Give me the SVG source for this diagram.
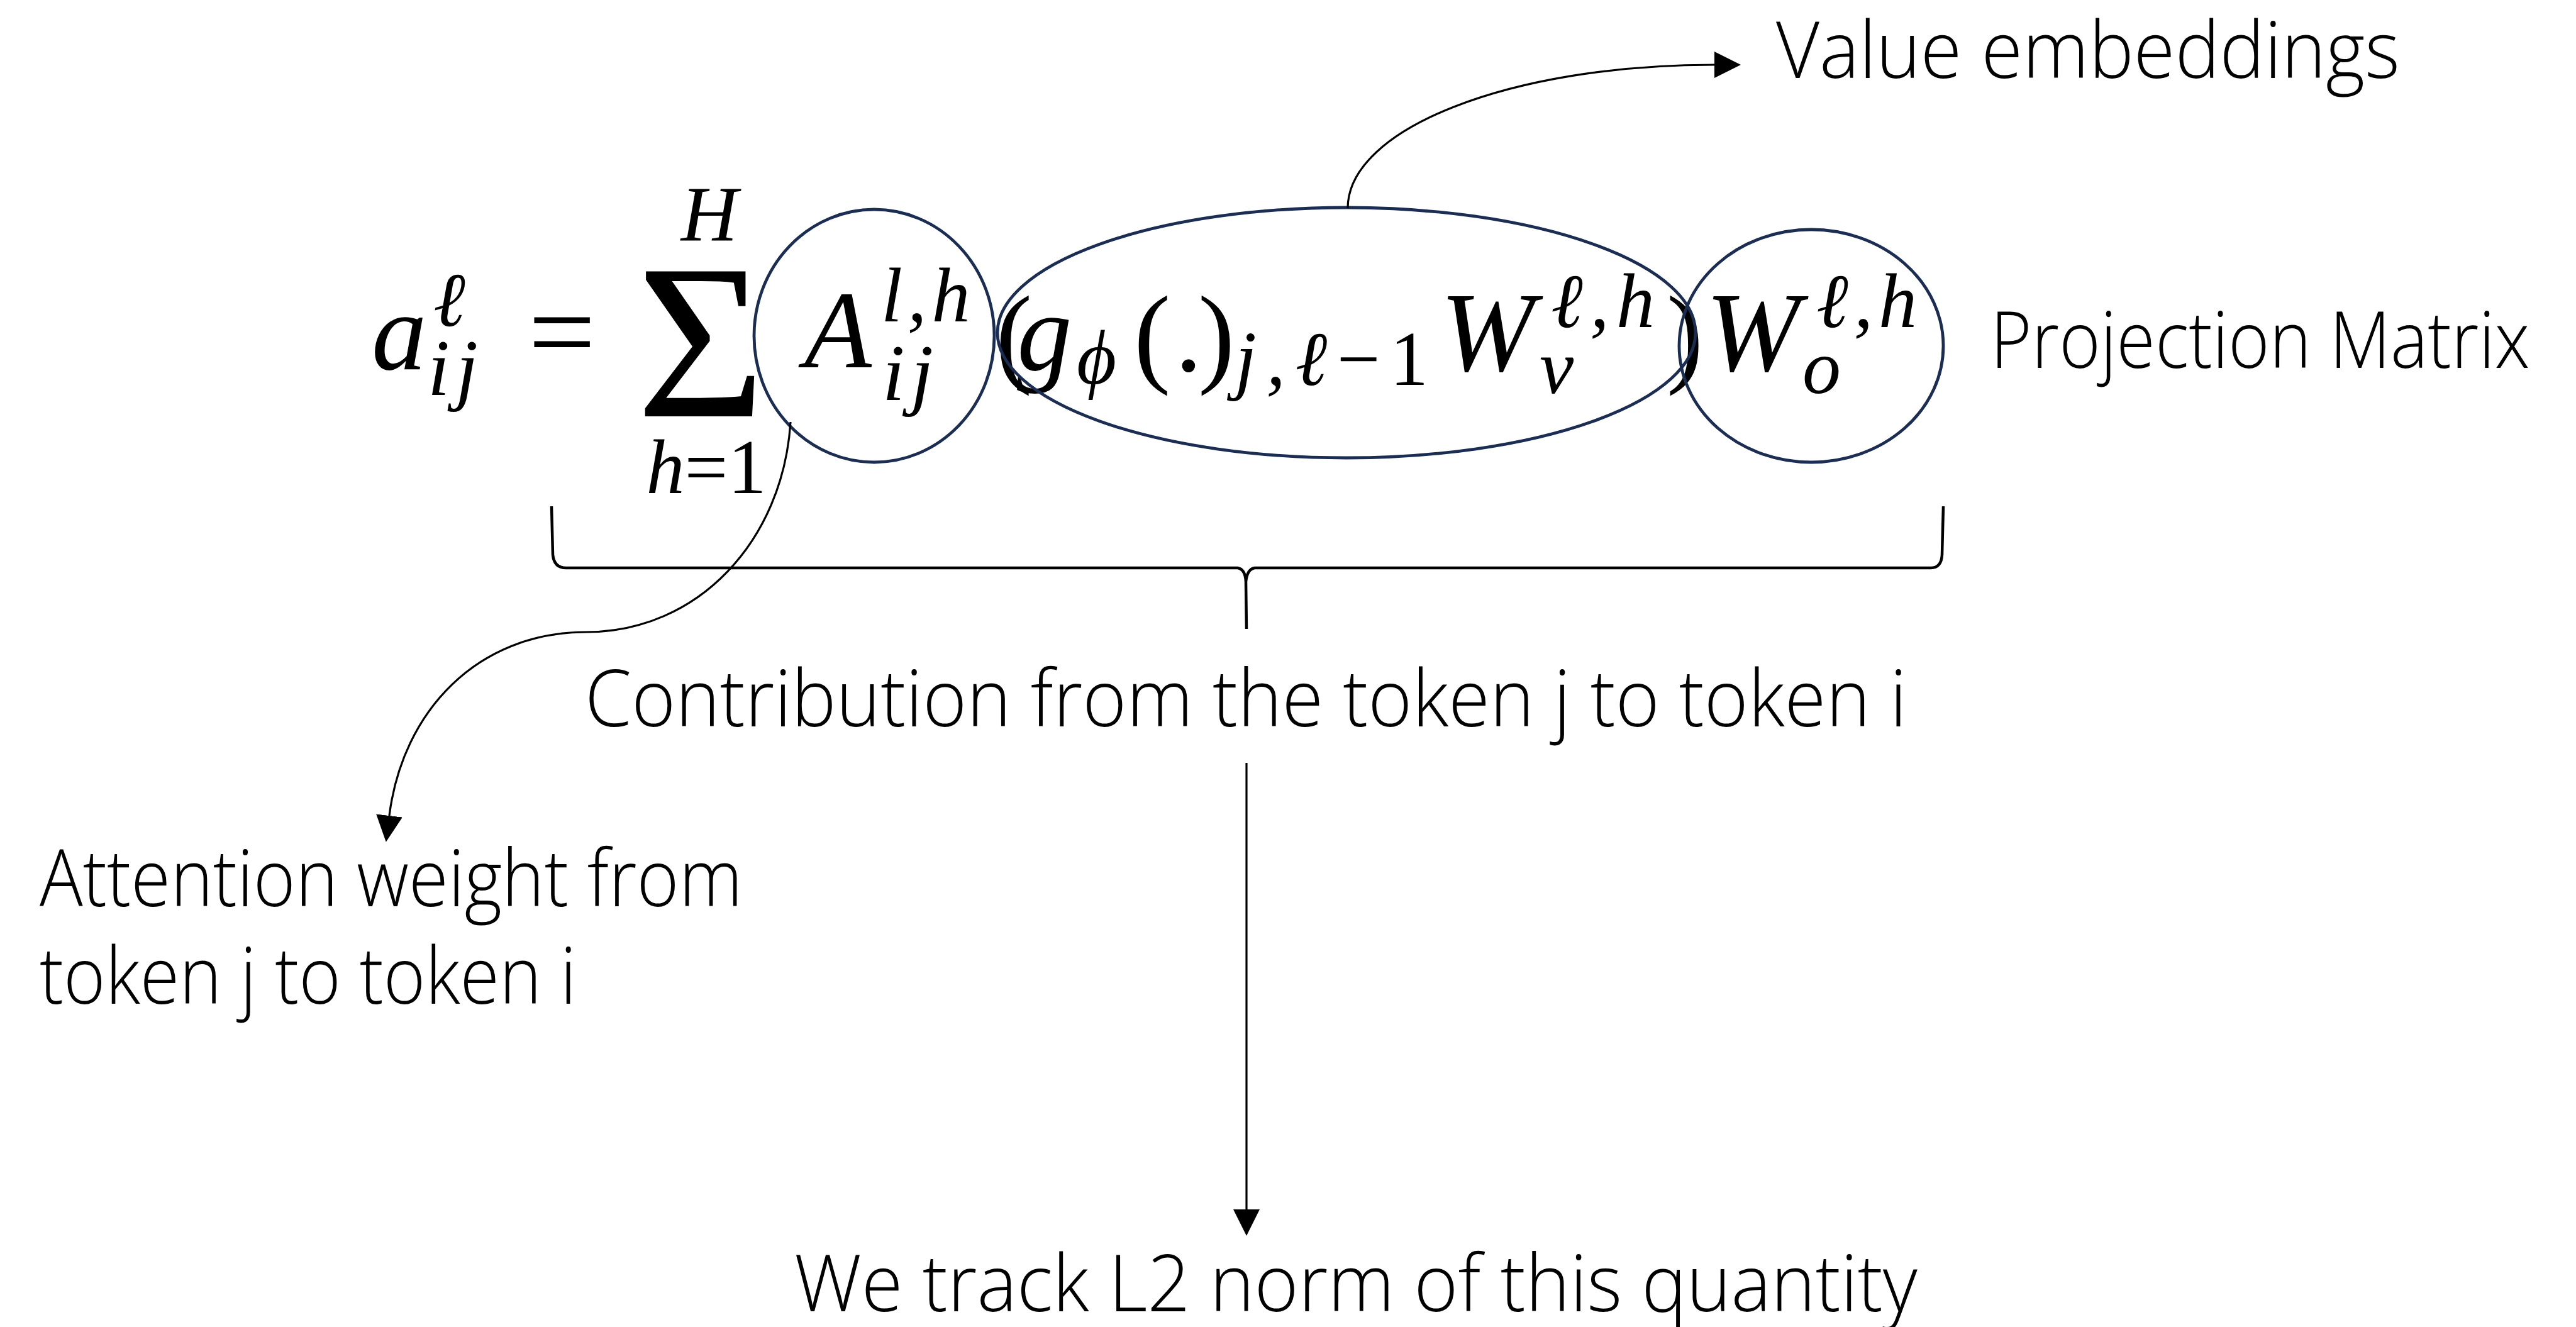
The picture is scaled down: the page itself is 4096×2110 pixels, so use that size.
<svg xmlns="http://www.w3.org/2000/svg" width="4096" height="2110" viewBox="0 0 4096 2110">
<defs>
<style>
.m{font-family:"Liberation Serif","DejaVu Serif",serif;font-style:italic;fill:#000}
.r{font-style:normal}
.lbl{font-family:"Open Sans","Noto Sans","Liberation Sans",sans-serif;font-weight:300;font-size:125px;fill:#000}
.ring{fill:none;stroke:#1b2d52;stroke-width:4.8}
.conn{fill:none;stroke:#000;stroke-width:3.2}
.brace{fill:none;stroke:#000;stroke-width:4.5}
</style>
<marker id="ah" markerUnits="userSpaceOnUse" markerWidth="42" markerHeight="42" refX="0" refY="21" orient="auto" viewBox="0 0 42 42"><path d="M0,0 L42,21 L0,42 Z" fill="#000"/></marker>
</defs>
<rect width="4096" height="2110" fill="#fff"/>
<g id="formula" class="m">
<text x="591" y="587" font-size="175">a</text>
<text x="689" y="518" font-size="122">ℓ</text>
<text x="680" y="628" font-size="126" letter-spacing="10">ij</text>
<text x="840" y="592" font-size="190" class="r">=</text>
<text x="1012" y="662" font-size="352" class="r">Σ</text>
<text x="1128" y="382" font-size="125" text-anchor="middle">H</text>
<text x="1123" y="784" font-size="122" text-anchor="middle">h<tspan class="r">=1</tspan></text>
<text x="1279" y="584" font-size="175">A</text>
<text x="1401" y="511" font-size="122" letter-spacing="8">l,h</text>
<text x="1403" y="636" font-size="128" letter-spacing="10">ij</text>
<text x="1583" y="592" font-size="175" class="r">(</text>
<text x="1617" y="589" font-size="175">g</text>
<text x="1712" y="610" font-size="122">ϕ</text>
<text x="1803" y="592" font-size="175" class="r">(</text>
<text x="1868" y="590" font-size="175" class="r">.</text>
<text x="1905" y="592" font-size="175" class="r">)</text>
<text x="1964" y="612" font-size="122" textLength="307">j,ℓ<tspan class="r">−1</tspan></text>
<text x="2290" y="589" font-size="180">W</text>
<text x="2466" y="520" font-size="122" textLength="165">ℓ,h</text>
<text x="2448" y="625" font-size="122">v</text>
<text x="2650" y="592" font-size="175" class="r">)</text>
<text x="2712" y="589" font-size="180">W</text>
<text x="2888" y="520" font-size="122" textLength="160">ℓ,h</text>
<text x="2866" y="625" font-size="122">o</text>
</g>
<g id="ring-attention"><ellipse class="ring" cx="1390" cy="534" rx="191" ry="201"/></g>
<g id="ring-value"><ellipse class="ring" cx="2141" cy="529" rx="555" ry="199"/></g>
<g id="ring-projection"><ellipse class="ring" cx="2880" cy="550" rx="210" ry="185"/></g>
<g id="brace"><path class="brace" d="M877,805 L879,882 Q881,903 900,903 L1968,903 Q1980,905 1981,925 L1982,1000 M1981,925 Q1983,905 1995,903 L3070,903 Q3087,903 3088,882 L3090,805"/></g>
<g id="label-value"><text class="lbl" transform="translate(2824,124) scale(0.85,1)" textLength="1167" lengthAdjust="spacingAndGlyphs">Value embeddings</text></g>
<g id="label-projection"><text class="lbl" transform="translate(3165,585) scale(0.85,1)" textLength="1009" lengthAdjust="spacingAndGlyphs">Projection Matrix</text></g>
<g id="label-contribution"><text class="lbl" transform="translate(930,1155) scale(0.85,1)" textLength="2473" lengthAdjust="spacingAndGlyphs">Contribution from the token j to token i</text></g>
<g id="label-attention"><text class="lbl" transform="translate(63,1441) scale(0.85,1)" textLength="1315" lengthAdjust="spacingAndGlyphs">Attention weight from</text><text class="lbl" transform="translate(63,1596) scale(0.85,1)" textLength="1004" lengthAdjust="spacingAndGlyphs">token j to token i</text></g>
<g id="label-norm"><text class="lbl" transform="translate(1263,2085) scale(0.85,1)" textLength="2101" lengthAdjust="spacingAndGlyphs">We track L2 norm of this quantity</text></g>
<g id="connectors">
<path class="conn" marker-end="url(#ah)" d="M2143,331 C2143,205 2400,103 2726,103"/>
<path class="conn" marker-end="url(#ah)" d="M1257,671 C1245,860 1110,1005 932,1005 C760,1005 640,1130 619,1297"/>
<path class="conn" marker-end="url(#ah)" d="M1982,1213 L1982,1923"/>
</g>
</svg>
